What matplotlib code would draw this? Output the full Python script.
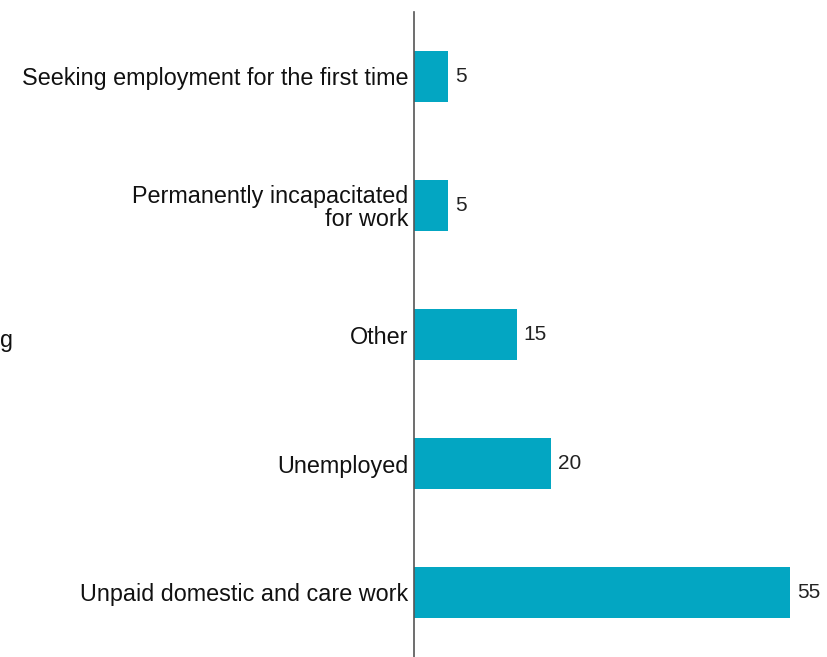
import matplotlib.pyplot as plt

categories = [
    "Seeking employment for the first time",
    "Permanently incapacitated\nfor work",
    "Other",
    "Unemployed",
    "Unpaid domestic and care work",
]
values = [5, 5, 15, 20, 55]

BAR_COLOR = "#03a6c2"
TEXT_SIZE = 16.8

plt.rcParams["font.family"] = ["Liberation Sans", "DejaVu Sans"]

fig = plt.figure(figsize=(8.27, 6.57), dpi=100)
ax = fig.add_axes([414 / 827, 0, 413 / 827, 645 / 657])

ypos = list(range(len(categories)))
ax.barh(ypos, values, height=0.4, color=BAR_COLOR)

for y, v in zip(ypos, values):
    ax.annotate(str(v), xy=(v, y), xytext=(5, 0), textcoords="offset points",
                ha="left", va="center", fontsize=15, color="#222222")

ax.set_xlim(0, 60.4)
ax.set_ylim(len(categories) - 0.5, -0.5)

ax.set_yticks(ypos)
ax.set_yticklabels(categories, fontsize=TEXT_SIZE, color="#111111",
                   linespacing=1.0)
ax.tick_params(axis="y", length=0, pad=4)
ax.set_xticks([])

for side in ("top", "right", "bottom"):
    ax.spines[side].set_visible(False)
ax.spines["left"].set_color("#555555")
ax.spines["left"].set_linewidth(1.2)

# tail of a neighbouring label that runs in from the left edge
fig.text(0.0, 1 - 340 / 657, "g", ha="left", va="center", fontsize=TEXT_SIZE,
         color="#111111")

fig.savefig("out.png", dpi=100)
